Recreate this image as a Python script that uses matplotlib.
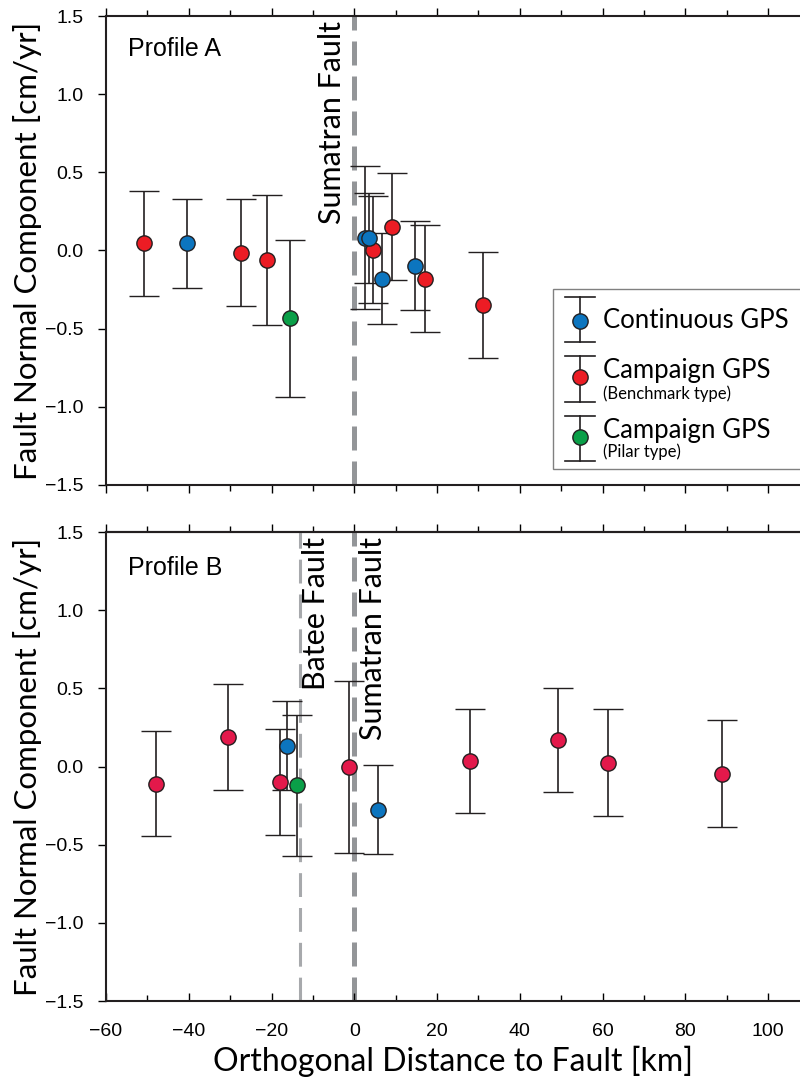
"""GPS fault-normal velocity profiles across the Sumatran Fault (Profile A / B)."""

import matplotlib
matplotlib.use("Agg")
import matplotlib.pyplot as plt
from matplotlib.lines import Line2D
from matplotlib.patches import Rectangle
from matplotlib.ticker import MultipleLocator

# ---- data (km, cm/yr) -------------------------------------------------------
# Profile A
a_cont_x   = [-40.5, 2.7, 3.6, 6.8, 14.6]
a_cont_y   = [0.045, 0.083, 0.080, -0.180, -0.096]
a_cont_err = [0.285, 0.455, 0.290, 0.290, 0.285]

a_bench_x   = [-50.7, -27.4, -21.1, 4.4, 9.2, 17.0, 31.1]
a_bench_y   = [0.045, -0.013, -0.060, 0.006, 0.153, -0.180, -0.350]
a_bench_err = [0.335, 0.340, 0.415, 0.340, 0.340, 0.340, 0.340]

a_pilar_x   = [-15.5]
a_pilar_y   = [-0.435]
a_pilar_err = [0.50]

# Profile B
b_cont_x   = [-16.3, 5.8]
b_cont_y   = [0.134, -0.275]
b_cont_err = [0.285, 0.285]

b_bench_x   = [-47.8, -30.6, -17.9, -1.2, 27.9, 49.3, 61.2, 88.8]
b_bench_y   = [-0.110, 0.190, -0.100, 0.000, 0.035, 0.170, 0.025, -0.045]
b_bench_err = [0.335, 0.340, 0.340, 0.550, 0.335, 0.335, 0.340, 0.340]

b_pilar_x   = [-13.8]
b_pilar_y   = [-0.120]
b_pilar_err = [0.45]

SUMATRAN_X = 0.0
BATEE_X    = -13.2

# ---- style ------------------------------------------------------------------
BLUE    = "#0c75bf"
RED_A   = "#ec1c24"
RED_B   = "#e3194b"
GREEN   = "#0a9f48"
INK     = "#231f20"
GRAY    = "#939598"
GRAY_LT = "#a7a9ac"

LABEL_FONT = ["Lato", "DejaVu Sans"]
TICK_FONT  = ["Liberation Sans Narrow", "Liberation Sans", "DejaVu Sans"]


def draw_points(ax, x, y, err, color):
    for xi, yi, ei in zip(x, y, err):
        ax.errorbar(xi, yi, yerr=ei, fmt="o", ms=11, mfc=color, mec=INK,
                    mew=1.0, ecolor=INK, elinewidth=1.2, capsize=11,
                    capthick=1.2, zorder=3)


def style_axes(ax, show_xlabels, bottom_in=False):
    ax.set_xlim(-60, 107.7)
    ax.set_ylim(-1.5, 1.5)
    ax.xaxis.set_major_locator(MultipleLocator(20))
    ax.xaxis.set_minor_locator(MultipleLocator(10))
    ax.yaxis.set_major_locator(MultipleLocator(0.5))
    ax.spines["right"].set_visible(False)
    for s in ("left", "top", "bottom"):
        ax.spines[s].set_linewidth(1.5)
        ax.spines[s].set_color(INK)
    ax.tick_params(axis="y", which="major", direction="out", length=6,
                   width=1, pad=10, left=True, right=False)
    if bottom_in:
        ax.tick_params(axis="x", which="both", direction="in", top=False,
                       bottom=True, width=1, pad=16)
        ax.tick_params(axis="x", which="major", length=6)
        ax.tick_params(axis="x", which="minor", length=4)
        sec = ax.secondary_xaxis("top")
        sec.xaxis.set_major_locator(MultipleLocator(20))
        sec.xaxis.set_minor_locator(MultipleLocator(10))
        sec.tick_params(which="both", direction="out", labeltop=False, width=1)
        sec.tick_params(which="major", length=6)
        sec.tick_params(which="minor", length=4)
        sec.spines["top"].set_linewidth(1.5)
    else:
        ax.tick_params(axis="x", which="both", direction="out", top=True,
                       bottom=True, width=1)
        ax.tick_params(axis="x", which="major", length=6)
        ax.tick_params(axis="x", which="minor", length=4)
    ax.tick_params(axis="x", labelbottom=show_xlabels)
    for lab in ax.get_xticklabels() + ax.get_yticklabels():
        lab.set_family(TICK_FONT)
        lab.set_fontsize(14)
    ax.set_ylabel("Fault Normal Component [cm/yr]", family=LABEL_FONT,
                  fontsize=22.5, labelpad=2)


fig = plt.figure(figsize=(8, 10.83), dpi=100)
ax1 = fig.add_axes([0.1325, 0.5522, 0.8675, 0.4330])
ax2 = fig.add_axes([0.1325, 0.0757, 0.8675, 0.4330])

# ---- Profile A ---------------------------------------------------------------
ax1.axvline(SUMATRAN_X, color=GRAY, lw=3.6, dashes=(4.8, 2.2), zorder=1)
draw_points(ax1, a_bench_x, a_bench_y, a_bench_err, RED_A)
draw_points(ax1, a_pilar_x, a_pilar_y, a_pilar_err, GREEN)
draw_points(ax1, a_cont_x, a_cont_y, a_cont_err, BLUE)
style_axes(ax1, show_xlabels=False)
ax1.text(0.032, 0.915, "Profile A", transform=ax1.transAxes,
         family=["Liberation Sans", "DejaVu Sans"], fontsize=18)
ax1.text(SUMATRAN_X - 5.3, 1.47, "Sumatran Fault", rotation=90, ha="center",
         va="top", family=LABEL_FONT, fontsize=22)

# legend, drawn by hand to get the small sub-captions
ax1.add_patch(Rectangle((0.644, 0.034), 0.5, 0.384, transform=ax1.transAxes,
                        fill=True, fc="white", ec="#808080", lw=1.0,
                        clip_on=False, zorder=5))
leg_entries = [
    (BLUE,  0.401, 0.350, 0.305, "Continuous GPS", None, 0.335, None),
    (RED_A, 0.275, 0.230, 0.177, "Campaign GPS", "(Benchmark type)", 0.228, 0.183),
    (GREEN, 0.147, 0.102, 0.051, "Campaign GPS", "(Pilar type)", 0.100, 0.060),
]
hx, hw = 0.683, 0.0216
for color, ytop, ymid, ybot, main, sub, yb_main, yb_sub in leg_entries:
    ax1.add_line(Line2D([hx, hx], [ybot, ytop], color=INK, lw=1.2,
                        transform=ax1.transAxes, clip_on=False, zorder=6))
    for yc in (ytop, ybot):
        ax1.add_line(Line2D([hx - hw, hx + hw], [yc, yc], color=INK, lw=1.2,
                            transform=ax1.transAxes, clip_on=False, zorder=6))
    ax1.add_line(Line2D([hx], [ymid], marker="o", ms=11, mfc=color, mec=INK,
                        mew=1.0, transform=ax1.transAxes, clip_on=False,
                        zorder=7))
    ax1.text(0.716, yb_main, main, transform=ax1.transAxes, va="baseline",
             family=LABEL_FONT, fontsize=18.5, zorder=7)
    if sub:
        ax1.text(0.716, yb_sub, sub, transform=ax1.transAxes, va="baseline",
                 family=LABEL_FONT, fontsize=12, zorder=7)

# ---- Profile B ---------------------------------------------------------------
ax2.axvline(SUMATRAN_X, color=GRAY, lw=3.6, dashes=(4.8, 2.2), zorder=1)
ax2.axvline(BATEE_X, color=GRAY_LT, lw=2.2, dashes=(7.8, 3.6), zorder=1)
draw_points(ax2, b_bench_x, b_bench_y, b_bench_err, RED_B)
draw_points(ax2, b_cont_x, b_cont_y, b_cont_err, BLUE)
draw_points(ax2, b_pilar_x, b_pilar_y, b_pilar_err, GREEN)
style_axes(ax2, show_xlabels=True, bottom_in=True)
ax2.text(0.032, 0.908, "Profile B", transform=ax2.transAxes,
         family=["Liberation Sans", "DejaVu Sans"], fontsize=18)
ax2.text(BATEE_X + 3.9, 1.47, "Batee Fault", rotation=90, ha="center",
         va="top", family=LABEL_FONT, fontsize=22)
ax2.text(SUMATRAN_X + 4.6, 1.47, "Sumatran Fault", rotation=90, ha="center",
         va="top", family=LABEL_FONT, fontsize=22)
ax2.set_xlabel("Orthogonal Distance to Fault [km]", family=LABEL_FONT,
               fontsize=23, labelpad=4)

fig.savefig("out.png", dpi=100)
